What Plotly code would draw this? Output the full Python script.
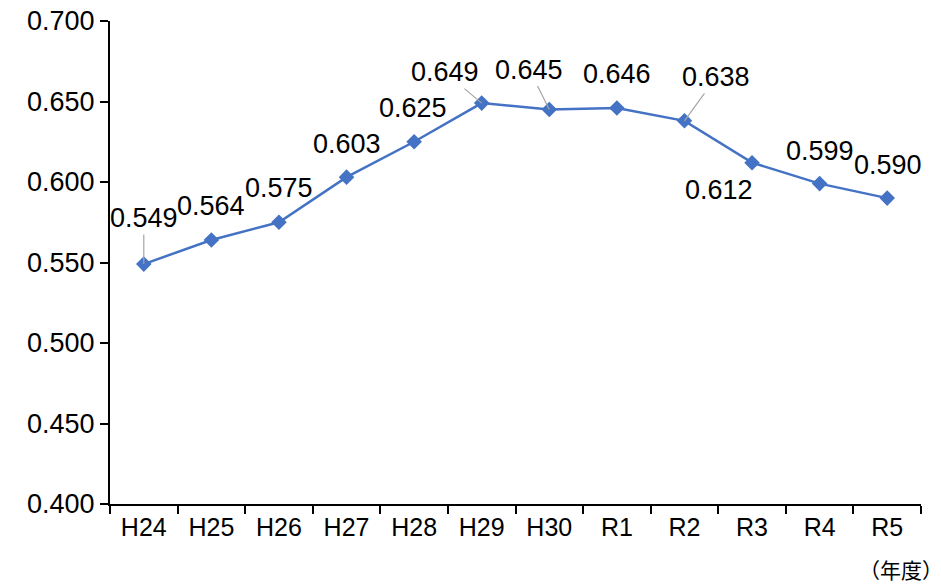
import plotly.graph_objects as go

categories = ["H24", "H25", "H26", "H27", "H28", "H29", "H30", "R1", "R2", "R3", "R4", "R5"]
values = [0.549, 0.564, 0.575, 0.603, 0.625, 0.649, 0.645, 0.646, 0.638, 0.612, 0.599, 0.590]
y_ticks = [0.400, 0.450, 0.500, 0.550, 0.600, 0.650, 0.700]

# label placement (pixel offsets from the point) and whether a leader line is drawn
label_offsets = [(0, -46, True), (0, -34, False), (0, -34, False), (0, -33, False),
                 (-1, -34, False), (-37, -31, True), (-20, -40, True), (0, -34, False),
                 (32, -44, True), (-33, 27, False), (0, -33, False), (1, -33, False)]

FONT = "Liberation Sans, Arial, sans-serif"
fig = go.Figure()
fig.add_trace(go.Scatter(
    x=categories, y=values, mode="lines+markers",
    line=dict(color="#4472C4", width=2.5),
    marker=dict(symbol="diamond", size=12, color="#4472C4"),
    hoverinfo="skip", showlegend=False,
))

for c, v, (dx, dy, leader) in zip(categories, values, label_offsets):
    if leader:
        fig.add_annotation(x=c, y=v, text=f"{v:.3f}", showarrow=True, ax=dx, ay=dy,
                           arrowhead=0, arrowwidth=1.2, arrowcolor="#A5A5A5",
                           font=dict(family=FONT, size=27, color="#000"))
    else:
        fig.add_annotation(x=c, y=v, text=f"{v:.3f}", showarrow=False,
                           xshift=dx, yshift=-dy,
                           font=dict(family=FONT, size=27, color="#000"))

fig.add_annotation(text="（年度）", xref="paper", yref="paper", x=1.0, y=0,
                   xanchor="center", yanchor="middle", yshift=-65, xshift=-20, showarrow=False,
                   font=dict(family="Noto Sans CJK JP, sans-serif", size=21, color="#000"))

fig.update_layout(
    width=941, height=584,
    margin=dict(l=102, r=28, t=13, b=88),
    paper_bgcolor="white", plot_bgcolor="white",
    font=dict(family=FONT, size=26, color="#000"),
)
fig.update_xaxes(type="category", range=[-0.5, 11.5], tickson="boundaries",
                 ticks="outside", ticklen=8, tickcolor="#000", tickwidth=2,
                 showline=True, linecolor="#000", linewidth=2, showgrid=False,
                 automargin=False, ticklabeloverflow="allow",
                 tickfont=dict(family=FONT, size=25, color="#000"))
fig.update_yaxes(range=[0.4, 0.7], tickvals=y_ticks, tickformat=".3f",
                 ticks="outside", ticklen=8, tickcolor="#000", tickwidth=2,
                 showline=True, linecolor="#000", linewidth=2, showgrid=False,
                 zeroline=False, automargin=False, ticklabeloverflow="allow",
                 tickfont=dict(family=FONT, size=27, color="#000"))

fig.write_html("out.html")
